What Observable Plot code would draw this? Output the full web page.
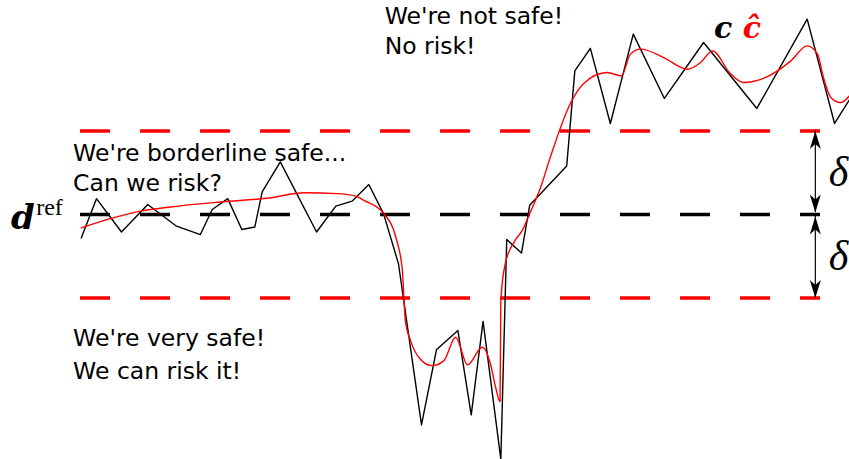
<!DOCTYPE html>
<html>
<head>
<meta charset="utf-8">
<script src="https://cdn.jsdelivr.net/npm/d3@7"></script>
<script src="https://cdn.jsdelivr.net/npm/@observablehq/plot@0.6"></script>
<style>
  html, body { margin: 0; padding: 0; background: #fff; }
  svg { display: block; }
</style>
</head>
<body>
<div id="chart"></div>
<script>
// Measured signal c, sampled at irregular time steps (value in units of δ around d_ref)
const signalTime = [0.1, 2.16, 5.54, 9.09, 12.97, 16.2, 17.8, 19.9, 21.8, 23.55, 24.55, 27.0, 31.9, 34.5, 36.7,
  38.96, 40.95, 42.97, 46.08, 48.1, 51.0, 52.8, 54.4, 56.8, 57.6, 59.6, 60.7, 65.7, 66.8, 68.9, 71.6, 74.7,
  78.9, 84.2, 91.4, 98.2, 101.9, 104.1];
const signalValue = [-0.28, 0.19, -0.21, 0.12, -0.14, -0.24, 0.06, 0.19, -0.18, -0.15, 0.27, 0.63, -0.21, 0.10, 0.16,
  0.36, 0.01, -0.59, -2.52, -1.62, -1.39, -2.40, -1.28, -2.93, -0.30, -0.46, 0.11, 0.58, 1.72, 1.99, 1.09, 2.16,
  1.39, 2.06, 1.27, 2.34, 1.09, 1.40];

// Smoothed estimate ĉ of the same signal
const estimateTime = [0.1, 4.05, 8.11, 12.16, 18.9, 25.7, 30.2, 34.7, 37.2, 38.3, 41.0, 42.6, 43.5, 43.7, 43.9,
  44.6, 45.9, 47.5, 49.1, 50.7, 52.3, 54.3, 55.4, 56.1, 56.7, 56.8, 57.4, 58.6, 59.7, 60.7, 62.2, 63.5, 66.2,
  68.0, 71.2, 73.1, 74.3, 75.7, 78.8, 82.0, 83.8, 85.4, 87.8, 89.6, 92.3, 96.0, 98.2, 99.6, 100.4, 101.4,
  102.7, 104.0];
const estimateValue = [-0.16, -0.05, 0.04, 0.09, 0.15, 0.20, 0.26, 0.25, 0.22, 0.17, 0.01, -0.27, -0.67, -1.0, -1.27,
  -1.51, -1.73, -1.81, -1.75, -1.47, -1.80, -1.59, -1.79, -2.07, -2.24, -1.03, -0.59, -0.33, -0.19, 0.01, 0.33, 0.69, 1.33,
  1.57, 1.70, 1.66, 1.92, 1.98, 1.88, 1.74, 1.82, 1.96, 1.69, 1.58, 1.63, 1.84, 2.02, 1.92, 1.64, 1.40,
  1.34, 1.43];

// Reference level and safety margin
const dRef = 0;
const delta = 1;
const span = [0, 100];
const markerTime = 99.3;   // where the δ brackets sit
const tipGap = 0.025;      // arrow tips stop at the edge of the reference dash

// Zone captions (one entry per line of text)
const captionText = ["We're not safe!", "No risk!", "We're borderline safe...", "Can we risk?", "We're very safe!", "We can risk it!"];
const captionTime = [41.1, 41.1, -1.0, -1.0, -1.0, -1.0];
const captionValue = [2.28, 1.925, 0.638, 0.287, -1.569, -1.968];

const signal = signalTime.map((t, i) => ({t, v: signalValue[i]}));
const estimate = estimateTime.map((t, i) => ({t, v: estimateValue[i]}));
const levels = [
  {v: dRef + delta, color: "red"},
  {v: dRef, color: "black"},
  {v: dRef - delta, color: "red"}
];
const brackets = [
  {t: markerTime, from: dRef + delta, to: dRef + tipGap},
  {t: markerTime, from: dRef - tipGap, to: dRef - delta}
];
const tips = [
  {t: markerTime, v: dRef + delta, angle: 0},
  {t: markerTime, v: dRef + tipGap, angle: 180},
  {t: markerTime, v: dRef - tipGap, angle: 0},
  {t: markerTime, v: dRef - delta, angle: 180}
];
const captions = captionText.map((text, i) => ({text, t: captionTime[i], v: captionValue[i]}));
const deltaLabels = [
  {t: 101.1, v: dRef + delta / 2},
  {t: 101.1, v: dRef - delta / 2}
];

// Filled stealth arrowhead, tip at the origin, pointing up
const stealth = {
  draw(ctx, size) {
    const s = Math.sqrt(size / Math.PI) / 4.5;
    ctx.moveTo(0, 0);
    ctx.lineTo(5.5 * s, 18 * s);
    ctx.lineTo(0, 13 * s);
    ctx.lineTo(-5.5 * s, 18 * s);
    ctx.closePath();
  }
};

const serif = "Liberation Serif, Times New Roman, serif";
const mathSerif = "DejaVu Serif, serif";
const sans = "DejaVu Sans, Verdana, sans-serif";
const symbolStyle = {textAnchor: "start", lineAnchor: "bottom", fontFamily: mathSerif, fontStyle: "italic", fontWeight: "bold"};

const chart = Plot.plot({
  width: 849,
  height: 459,
  marginLeft: 80,
  marginRight: 29,
  marginTop: 130.5,
  marginBottom: 161.5,
  x: {domain: span, axis: null},
  y: {domain: [dRef - delta, dRef + delta], axis: null},
  color: {type: "identity"},
  style: {background: "white", overflow: "visible"},
  marks: [
    Plot.ruleY(levels, {y: "v", x1: span[0], x2: span[1], stroke: "color", strokeWidth: 3.5, strokeDasharray: "30,30"}),
    Plot.line(signal, {x: "t", y: "v", stroke: "black", strokeWidth: 1.4}),
    Plot.line(estimate, {x: "t", y: "v", stroke: "red", strokeWidth: 1.4, curve: "monotone-x"}),
    Plot.ruleX(brackets, {x: "t", y1: "from", y2: "to", stroke: "black", strokeWidth: 1.2}),
    Plot.dot(tips, {x: "t", y: "v", rotate: "angle", symbol: stealth, r: 4.5, fill: "black", stroke: "none"}),
    Plot.text(deltaLabels, {x: "t", y: "v", text: () => "δ", textAnchor: "start", fontFamily: serif, fontStyle: "italic", fontSize: 42, fill: "black"}),
    Plot.text(captions, {x: "t", y: "v", text: "text", textAnchor: "start", lineAnchor: "bottom", fontFamily: sans, fontSize: 23.5, fill: "black"}),
    Plot.text(["d"], {x: -9.4, y: -0.171, text: d => d, ...symbolStyle, fontSize: 34, fill: "black"}),
    Plot.text(["ref"], {x: -5.99, y: 0, text: d => d, textAnchor: "start", lineAnchor: "bottom", fontFamily: serif, fontSize: 24, fill: "black", letterSpacing: 2.5}),
    Plot.text(["c"], {x: 85.6, y: 2.11, text: d => d, ...symbolStyle, fontSize: 30, fill: "black"}),
    Plot.text(["ĉ"], {x: 89.5, y: 2.11, text: d => d, ...symbolStyle, fontSize: 30, fill: "red"})
  ]
});

document.getElementById("chart").appendChild(chart);
</script>
</body>
</html>
